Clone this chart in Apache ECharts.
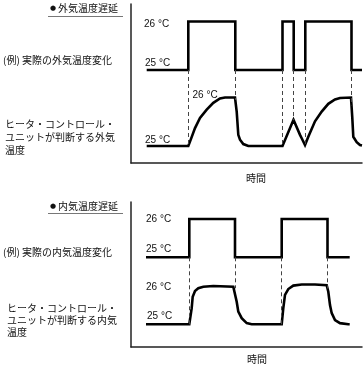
<!DOCTYPE html>
<html><head><meta charset="utf-8">
<script src="https://cdn.jsdelivr.net/npm/echarts@6/dist/echarts.min.js"></script>
<style>html,body{margin:0;padding:0;background:#fff}#c{width:364px;height:368px}</style>
</head><body><div id="c"></div>
<script>
// ---- data (time in arbitrary units, temperature in °C) ----
const timeRange = [0, 231];
const lowTemp = 25, highTemp = 26;

// top panel: outside-air temperature delay
const topStart = 15.7, topEnd = 231;
const topSwitchTimes = [57.3, 104.3, 151.5, 162.7, 174.3, 220.5];
const topEstT = [15.7, 57.3, 59, 64, 69, 75.7, 82.3, 89, 94, 104, 105.7, 107.3, 109, 112.3, 117.3, 151.5, 162.5, 169, 170.7, 174, 177.3, 184, 190.7, 197.3, 204, 209, 220, 221.3, 222.3, 225.7, 229, 231];
const topEstV = [25, 25, 25.09, 25.37, 25.58, 25.75, 25.89, 25.98, 26, 26, 25.71, 25.23, 25.13, 25.04, 25, 25, 25.54, 25.23, 25.16, 25.02, 25.19, 25.51, 25.71, 25.87, 25.96, 25.99, 26, 25.58, 25.19, 25.08, 25.02, 25.01];

// bottom panel: inside-air temperature delay
const botStart = 15, botEnd = 218.7;
const botSwitchTimes = [58.3, 104, 150.7, 196.5];
const botEstT = [15, 58.3, 60.7, 61.7, 64, 67.3, 72.3, 82.3, 102.3, 104, 105.7, 107.3, 110.7, 115.7, 120.7, 150.7, 152.3, 154, 157.3, 162.3, 170.7, 184, 195.7, 197.3, 199, 200.7, 204, 209, 217.3, 218.7];
const botEstV = [25, 25, 25.42, 25.72, 25.87, 25.94, 25.98, 26, 25.98, 25.94, 25.59, 25.33, 25.16, 25.03, 25, 25, 25.42, 25.77, 25.92, 26.01, 26.04, 26.04, 26.02, 25.85, 25.5, 25.29, 25.11, 25.03, 25, 25];

// axis ranges (actual / estimated share the same span per panel)
const topActRange = [23.0825, 26.3608], topEstRange = [24.6495, 27.9278];
const botActRange = [22.658, 26.444], botEstRange = [24.407, 28.193];

// texts
const bullet = '●';
const topTitle = '外気温度遅延', botTitle = '内気温度遅延';
const topActLabel = '(例) 実際の外気温度変化', botActLabel = '(例) 実際の内気温度変化';
const topEstLabel = ['ヒータ・コントロール・', 'ユニットが判断する外気', '温度'];
const botEstLabel = ['ヒータ・コントロール・', 'ユニットが判断する内気', '温度'];
const xName = '時間';
const tLow = '25 °C', tHigh = '26 °C';

// ---- helpers ----
function stepData(start, switches, end) {
  const d = [[start, lowTemp]];
  let v = lowTemp;
  switches.forEach(t => { d.push([t, v]); v = (v === lowTemp ? highTemp : lowTemp); d.push([t, v]); });
  d.push([end, v]);
  return d;
}
function pairs(T, V) { return T.map((t, i) => [t, V[i]]); }
function interp(T, V, t) {
  for (let i = 0; i < T.length - 1; i++) {
    if (t >= T[i] && t <= T[i + 1]) {
      const f = T[i + 1] === T[i] ? 0 : (t - T[i]) / (T[i + 1] - T[i]);
      return V[i] + f * (V[i + 1] - V[i]);
    }
  }
  return V[V.length - 1];
}
function dashes(switches, T, V, actRange, estRange) {
  const off = actRange[0] - estRange[0];
  return switches.map(t => [{ coord: [t, lowTemp] }, { coord: [t, interp(T, V, t) + off] }]);
}

const jp = '"Noto Sans CJK JP", sans-serif';
const lat = '"Liberation Sans", Arial, sans-serif';
function txt(text, x, y, font, align) {
  return { type: 'text', x: x, y: y, silent: true,
    style: { text: text, fill: '#111', font: font, align: align || 'left', verticalAlign: 'middle',
      textAlign: align || 'left', textVerticalAlign: 'middle' } };
}
function hline(x1, x2, y) {
  return { type: 'line', silent: true, shape: { x1: x1, y1: y, x2: x2, y2: y }, style: { stroke: '#777', lineWidth: 1 } };
}

const sigStyle = { color: '#000', width: 2.6, join: 'miter', cap: 'butt' };
const dashStyle = { color: '#444', width: 1, type: [4, 3] };

const chart = echarts.init(document.getElementById('c'), null, { renderer: 'canvas' });
const axisLineStyle = { color: '#222', width: 1.5 };
const xBase = { type: 'value', min: timeRange[0], max: timeRange[1], axisTick: { show: false }, axisLabel: { show: false }, splitLine: { show: false }, axisLine: { show: true, onZero: false, lineStyle: axisLineStyle } };
const yShown = (r, g) => ({ type: 'value', gridIndex: g, min: r[0], max: r[1], position: 'left', axisTick: { show: false }, axisLabel: { show: false }, splitLine: { show: false }, axisLine: { show: true, onZero: false, lineStyle: axisLineStyle } });
const yHidden = (r, g) => ({ type: 'value', gridIndex: g, min: r[0], max: r[1], show: false, splitLine: { show: false } });

chart.setOption({
  animation: false,
  grid: [
    { left: 131, top: 4, width: 231, height: 159 },
    { left: 131, top: 202, width: 231, height: 145 }
  ],
  xAxis: [Object.assign({ gridIndex: 0 }, xBase), Object.assign({ gridIndex: 1 }, xBase)],
  yAxis: [yShown(topActRange, 0), yHidden(topEstRange, 0), yShown(botActRange, 1), yHidden(botEstRange, 1)],
  series: [
    { type: 'line', xAxisIndex: 0, yAxisIndex: 0, data: stepData(topStart, topSwitchTimes, topEnd), showSymbol: false, lineStyle: sigStyle,
      markLine: { silent: true, symbol: 'none', label: { show: false }, lineStyle: dashStyle, emphasis: { disabled: true }, data: dashes(topSwitchTimes, topEstT, topEstV, topActRange, topEstRange) } },
    { type: 'line', xAxisIndex: 0, yAxisIndex: 1, data: pairs(topEstT, topEstV), showSymbol: false, lineStyle: sigStyle },
    { type: 'line', xAxisIndex: 1, yAxisIndex: 2, data: stepData(botStart, botSwitchTimes, botEnd), showSymbol: false, lineStyle: sigStyle,
      markLine: { silent: true, symbol: 'none', label: { show: false }, lineStyle: dashStyle, emphasis: { disabled: true }, data: dashes(botSwitchTimes, botEstT, botEstV, botActRange, botEstRange) } },
    { type: 'line', xAxisIndex: 1, yAxisIndex: 3, data: pairs(botEstT, botEstV), showSymbol: false, lineStyle: sigStyle }
  ],
  graphic: [
    txt(bullet, 50, 8.5, '7px "DejaVu Sans", sans-serif'), txt(topTitle, 58, 8.5, '10px ' + jp), hline(48, 123, 16.5),
    txt(topActLabel, 3, 60, '10px ' + jp),
    txt(topEstLabel[0], 5, 124, '10px ' + jp), txt(topEstLabel[1], 5, 137, '10px ' + jp), txt(topEstLabel[2], 5, 150, '10px ' + jp),
    txt(tHigh, 144, 24, '10px ' + lat), txt(tLow, 145, 63.5, '10px ' + lat),
    txt(tHigh, 192.5, 95, '10px ' + lat), txt(tLow, 145, 140, '10px ' + lat),
    txt(xName, 256, 178, '10px ' + jp, 'center'),

    txt(bullet, 50, 206, '7px "DejaVu Sans", sans-serif'), txt(botTitle, 58, 206, '10px ' + jp), hline(48, 123, 213.5),
    txt(botActLabel, 3, 252.5, '10px ' + jp),
    txt(botEstLabel[0], 7, 308, '10px ' + jp), txt(botEstLabel[1], 7, 320.5, '10px ' + jp), txt(botEstLabel[2], 7, 332.5, '10px ' + jp),
    txt(tHigh, 146, 219, '10px ' + lat), txt(tLow, 146, 249, '10px ' + lat),
    txt(tHigh, 146, 287, '10px ' + lat), txt(tLow, 147, 316, '10px ' + lat),
    txt(xName, 257, 359, '10px ' + jp, 'center')
  ]
});
</script>
</body></html>
